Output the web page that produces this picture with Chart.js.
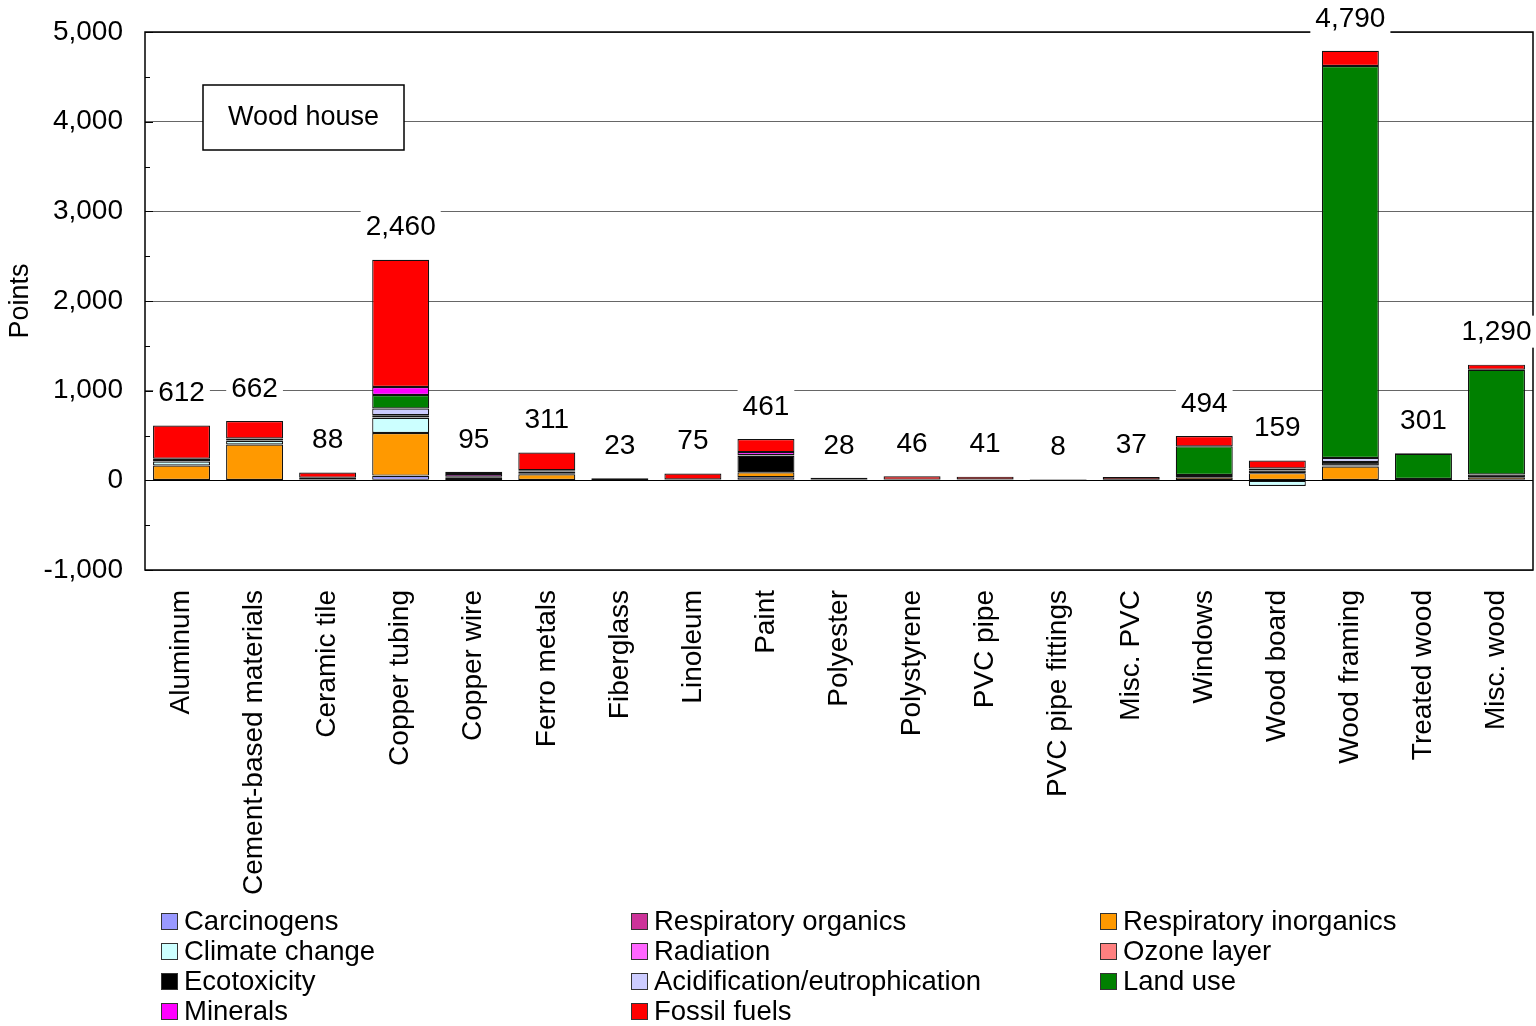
<!DOCTYPE html>
<html>
<head>
<meta charset="utf-8">
<title>Wood house</title>
<script src="https://cdn.jsdelivr.net/npm/chart.js@4/dist/chart.umd.min.js"></script>
<style>
  html, body { margin: 0; padding: 0; background: #fff; }
  #wrap { position: relative; width: 1536px; height: 1026px; font-family: "Liberation Sans", Arial, sans-serif; }
  #legend { position: absolute; left: 0; top: 0; width: 1536px; height: 1026px; pointer-events: none; }
  .lg-item { position: absolute; display: flex; align-items: center; font-size: 27.5px; line-height: 30px; color: #000; white-space: nowrap; }
  .lg-box { width: 17px; height: 17px; border: 1px solid #333; margin-right: 6px; box-sizing: border-box; }
</style>
</head>
<body>
<div id="wrap">
  <canvas id="chart" width="1536" height="1026"></canvas>
  <div id="legend"></div>
</div>
<script>
// --- Datos ---
const categories = ["Aluminum", "Cement-based materials", "Ceramic tile", "Copper tubing", "Copper wire",
  "Ferro metals", "Fiberglass", "Linoleum", "Paint", "Polyester", "Polystyrene", "PVC pipe",
  "PVC pipe fittings", "Misc. PVC", "Windows", "Wood board", "Wood framing", "Treated wood", "Misc. wood"];
const totalLabels = ["612", "662", "88", "2,460", "95", "311", "23", "75", "461", "28", "46", "41",
  "8", "37", "494", "159", "4,790", "301", "1,290"];

const carcinogens      = [5, 5, 3, 50, 5, 3, 0, 5, 35, 0, 3, 3, 0, 3, 4, 5, 5, 0, 0];
const respOrganics     = [0, 0, 0, 3, 0, 0, 0, 0, 0, 0, 0, 0, 0, 0, 0, 0, 0, 0, 0];
const respInorganics   = [160, 395, 5, 475, 20, 65, 5, 5, 55, 5, 5, 5, 2, 4, 30, 75, 150, 5, 35];
const climateChange    = [45, 40, 0, 170, 0, 5, 0, 0, 0, 0, 0, 0, 0, 0, 0, -63, 10, 0, 0];
const radiation        = [0, 0, 0, 2, 0, 0, 0, 0, 0, 0, 0, 0, 0, 0, 0, 0, 0, 0, 0];
const ozoneLayer       = [0, 0, 0, 1, 0, 0, 0, 0, 0, 0, 0, 0, 0, 0, 0, 0, 0, 0, 0];
const ecotoxicity      = [5, 5, 20, 25, 5, 25, 10, 0, 185, 3, 0, 3, 1, 0, 25, 30, 40, 10, 30];
const acidification    = [25, 15, 0, 75, 10, 15, 0, 0, 5, 0, 0, 0, 0, 0, 0, 0, 45, 0, 0];
const landUse          = [0, 7, 0, 150, 0, 0, 0, 0, 0, 0, 0, 0, 0, 0, 320, 22, 4370, 280, 1168];
const minerals         = [0, 0, 0, 90, 30, 0, 0, 0, 35, 0, 0, 0, 0, 0, 0, 0, 0, 0, 0];
const fossilFuels      = [372, 195, 60, 1419, 25, 198, 8, 65, 146, 20, 38, 30, 5, 30, 115, 90, 170, 6, 57];

const yTicks = [-1000, 0, 1000, 2000, 3000, 4000, 5000];

const series = [
  { label: "Carcinogens", data: carcinogens, color: "#9999FF" },
  { label: "Respiratory organics", data: respOrganics, color: "#CC3399" },
  { label: "Respiratory inorganics", data: respInorganics, color: "#FF9900" },
  { label: "Climate change", data: climateChange, color: "#CCFFFF" },
  { label: "Radiation", data: radiation, color: "#FF66FF" },
  { label: "Ozone layer", data: ozoneLayer, color: "#FF8080" },
  { label: "Ecotoxicity", data: ecotoxicity, color: "#000000" },
  { label: "Acidification/eutrophication", data: acidification, color: "#CCCCFF" },
  { label: "Land use", data: landUse, color: "#008000" },
  { label: "Minerals", data: minerals, color: "#FF00FF" },
  { label: "Fossil fuels", data: fossilFuels, color: "#FF0000" },
];

const FONT = "'Liberation Sans', Arial, sans-serif";
Chart.defaults.font.family = FONT;
Chart.defaults.font.size = 28;
Chart.defaults.color = "#000";

// --- Marco, ticks menores, etiquetas de totales y caja "Wood house"
const decorPlugin = {
  id: "decor",
  afterDraw(chart) {
    const { ctx, chartArea: a, scales } = chart;
    const y = scales.y, x = scales.x;
    ctx.save();
    // ticks interiores (menores cada 500)
    ctx.strokeStyle = "#000";
    ctx.lineWidth = 1;
    for (let v = -1000; v <= 5000; v += 500) {
      const py = Math.round(y.getPixelForValue(v)) + 0.5;
      ctx.beginPath();
      ctx.moveTo(a.left, py);
      ctx.lineTo(a.left + (v % 1000 === 0 ? 8 : 5), py);
      ctx.stroke();
    }
    // marco
    ctx.lineWidth = 1.5;
    ctx.strokeRect(a.left, a.top, a.right - a.left, a.bottom - a.top);

    // totales sobre cada barra
    ctx.font = "28px " + FONT;
    ctx.textAlign = "center";
    ctx.textBaseline = "middle";
    categories.forEach((c, i) => {
      const pos = series.reduce((s, d) => s + Math.max(0, d.data[i]), 0);
      const px = x.getPixelForValue(i);
      const py = y.getPixelForValue(pos) - 33;
      const w = ctx.measureText(totalLabels[i]).width + 10;
      ctx.fillStyle = "#fff";
      ctx.fillRect(px - w / 2, py - 16, w, 32);
      ctx.fillStyle = "#000";
      ctx.fillText(totalLabels[i], px, py + 1);
    });

    // caja "Wood house"
    ctx.fillStyle = "#fff";
    ctx.fillRect(203, 85, 201, 65);
    ctx.lineWidth = 1.5;
    ctx.strokeStyle = "#000";
    ctx.strokeRect(203, 85, 201, 65);
    ctx.fillStyle = "#000";
    ctx.font = "27px " + FONT;
    ctx.fillText("Wood house", 303.5, 118);
    ctx.restore();
  },
};

new Chart(document.getElementById("chart"), {
  type: "bar",
  data: {
    labels: categories,
    datasets: series.map((s) => ({
      label: s.label,
      data: s.data,
      backgroundColor: s.color,
      borderColor: "#111",
      borderWidth: 1.2,
      borderSkipped: false,
      barPercentage: 0.78,
      categoryPercentage: 1,
    })),
  },
  options: {
    responsive: false,
    animation: false,
    events: [],
    layout: { padding: { top: 32, right: 3, left: 0, bottom: 0 } },
    plugins: { legend: { display: false }, tooltip: { enabled: false } },
    scales: {
      x: {
        stacked: true,
        grid: { display: false, drawTicks: false },
        border: { display: false },
        ticks: { maxRotation: 90, minRotation: 90, padding: 20, autoSkip: false, color: "#000" },
        afterFit: (s) => { s.height = 1026 - 570; s.paddingLeft = 0; s.paddingRight = 0; },
      },
      y: {
        stacked: true,
        min: -1000,
        max: 5000,
        afterBuildTicks: (s) => { s.ticks = yTicks.map((v) => ({ value: v })); },
        ticks: {
          padding: 22,
          color: "#000",
          callback: (v) => v.toLocaleString("en-US"),
        },
        grid: {
          drawTicks: false,
          color: (c) => (c.tick && c.tick.value === 0 ? "#000" : "#666"),
          lineWidth: 1,
        },
        border: { display: false },
        title: { display: true, text: "Points", color: "#000", font: { size: 27 }, padding: { top: 4, bottom: 4 } },
        afterFit: (s) => { s.width = 145; s.paddingTop = 0; s.paddingBottom = 0; },
      },
    },
  },
  plugins: [decorPlugin],
});

// --- Leyenda HTML en 3 columnas
const legendEl = document.getElementById("legend");
const colX = [161, 631, 1100];
series.forEach((s, i) => {
  const item = document.createElement("div");
  item.className = "lg-item";
  item.style.left = colX[i % 3] + "px";
  item.style.top = 906 + Math.floor(i / 3) * 30 + "px";
  item.innerHTML = `<span class="lg-box" style="background:${s.color}"></span><span>${s.label}</span>`;
  legendEl.appendChild(item);
});
</script>
</body>
</html>
